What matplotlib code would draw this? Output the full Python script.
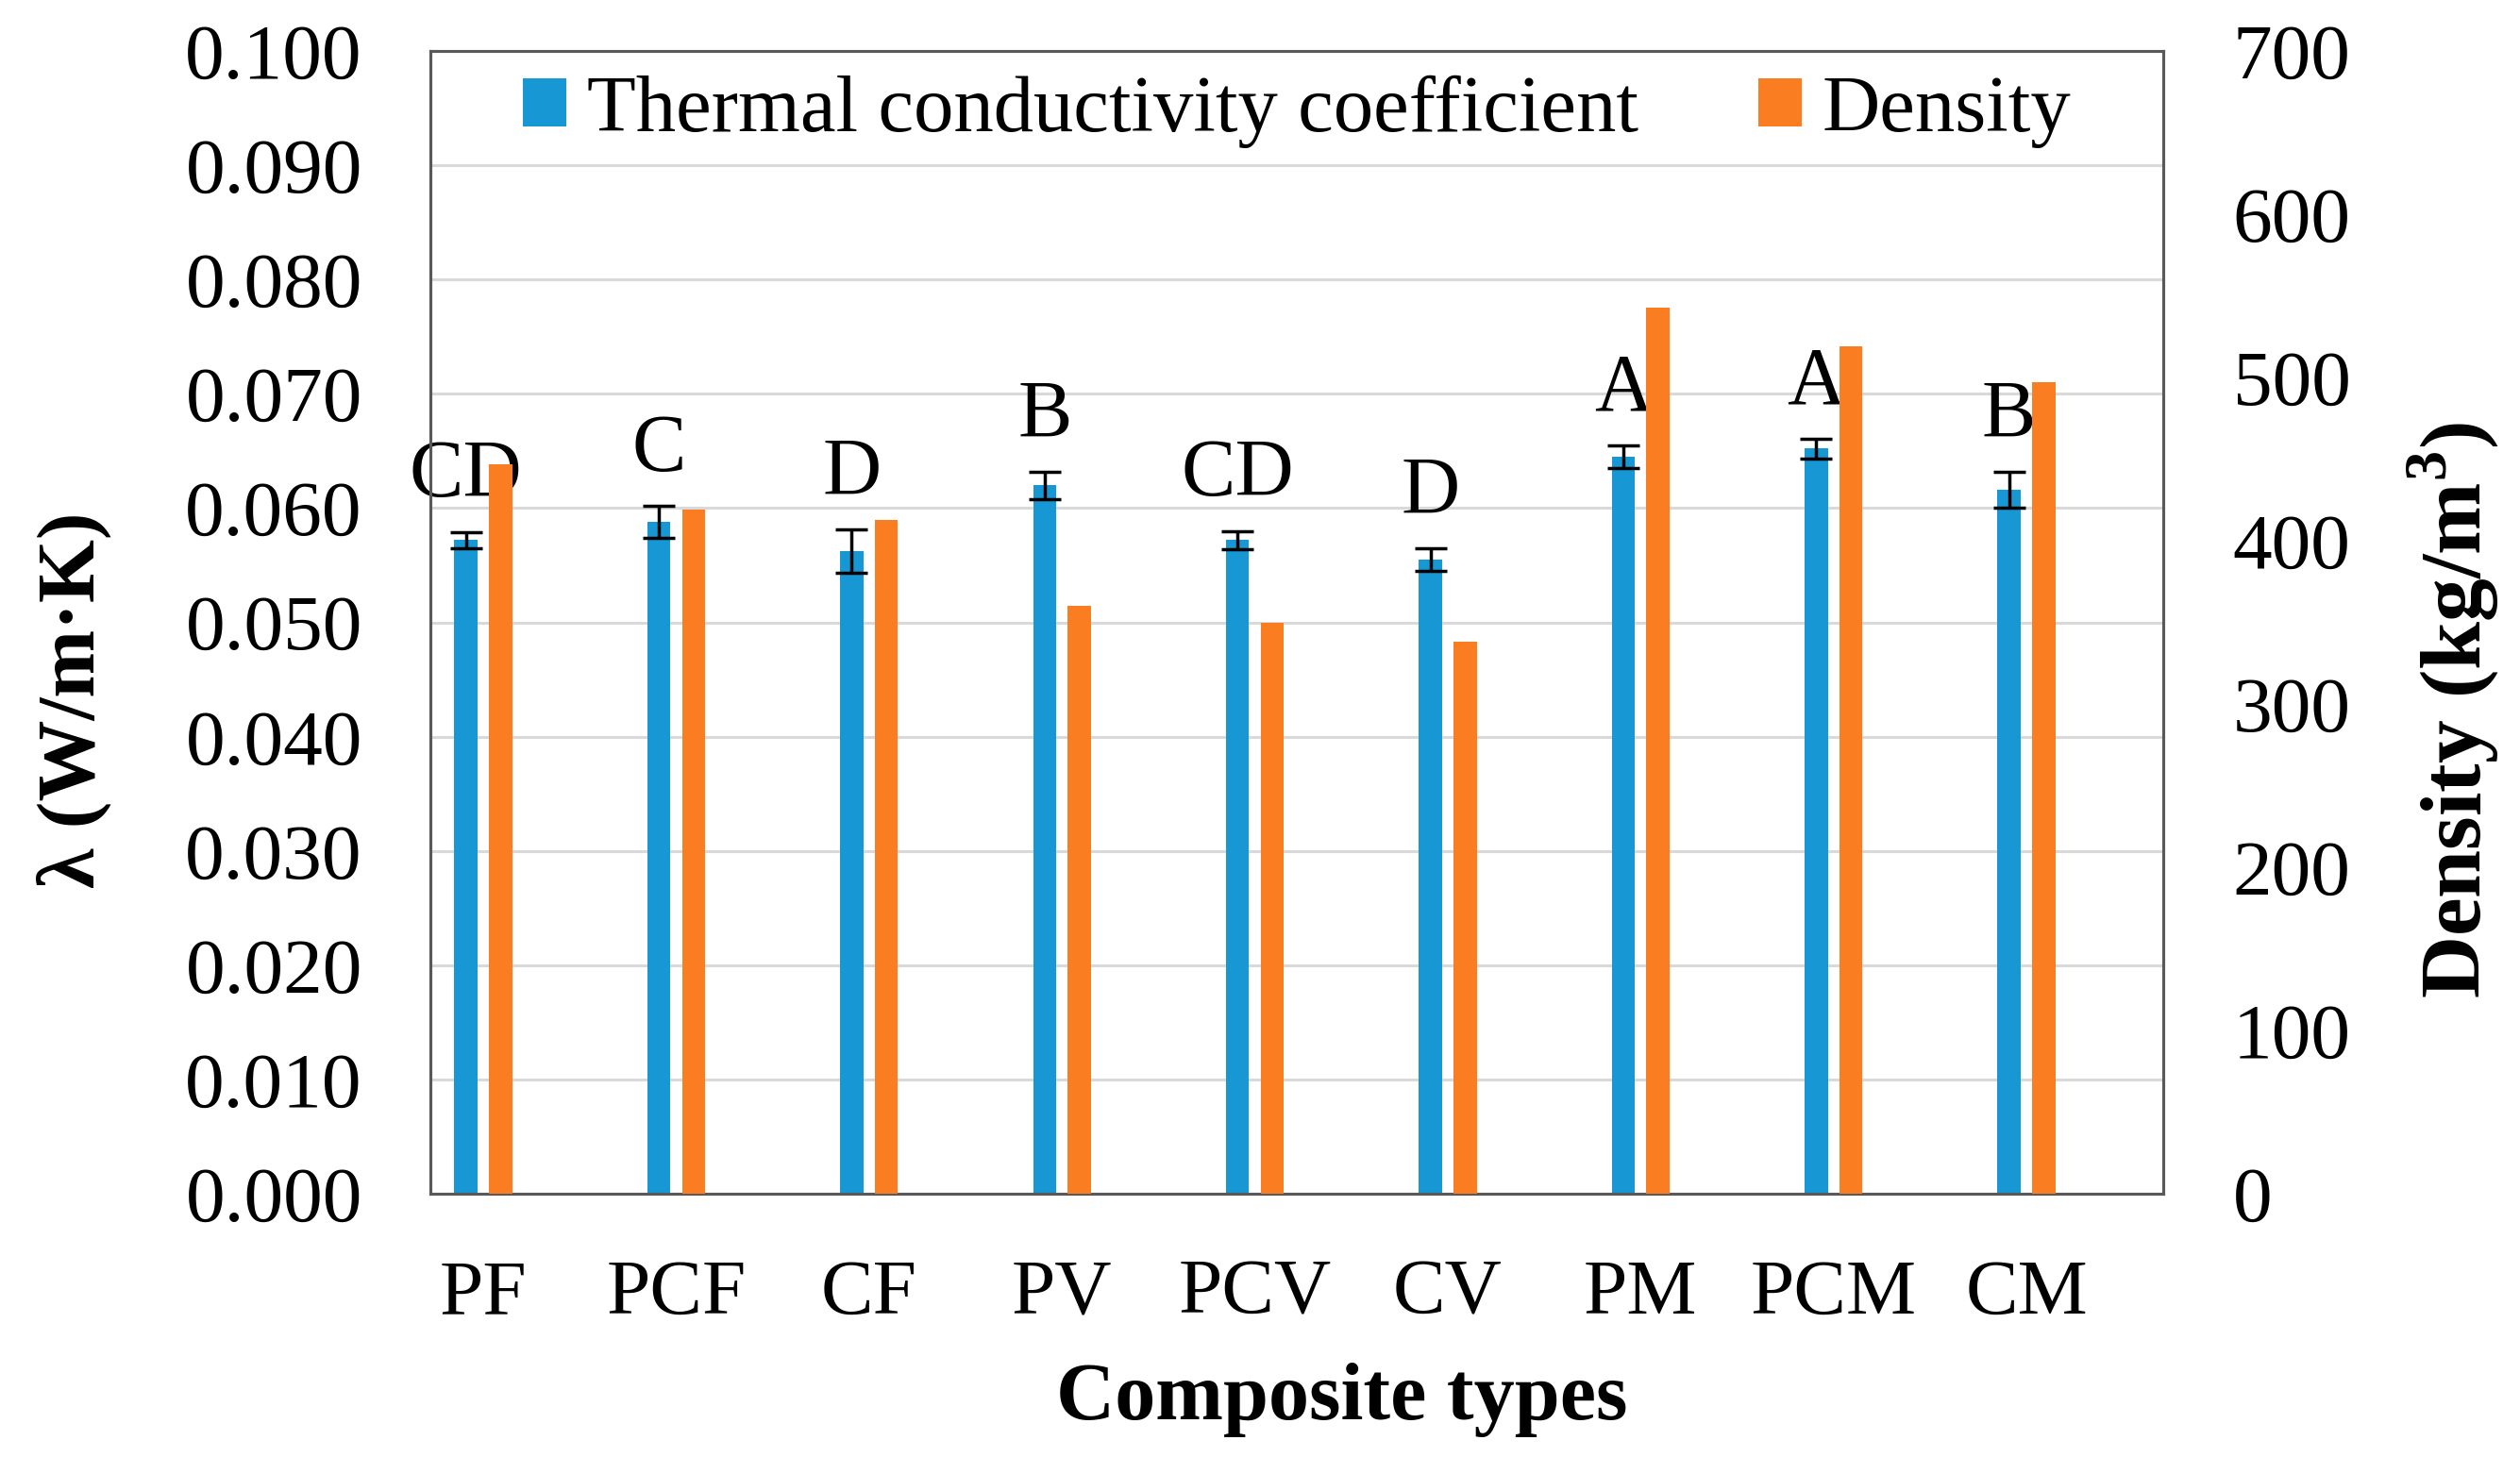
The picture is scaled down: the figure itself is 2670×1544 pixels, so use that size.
import matplotlib
matplotlib.use("Agg")
import matplotlib.pyplot as plt
import numpy as np
from matplotlib.patches import Patch

categories = ["PF", "PCF", "CF", "PV", "PCV", "CV", "PM", "PCM", "CM"]
conductivity = [0.0572, 0.0588, 0.0562, 0.0620, 0.0572, 0.0555, 0.0645, 0.0652, 0.0616]
conductivity_err = [0.0007, 0.0014, 0.0019, 0.0012, 0.0008, 0.0010, 0.0010, 0.0009, 0.0016]
density = [447, 419, 413, 360, 350, 338, 543, 519, 497]
letters = ["CD", "C", "D", "B", "CD", "D", "A", "A", "B"]
left_ticks = [0.000, 0.010, 0.020, 0.030, 0.040, 0.050, 0.060, 0.070, 0.080, 0.090, 0.100]
right_ticks = [0, 100, 200, 300, 400, 500, 600, 700]

blue = "#1797d4"
orange = "#fb7d21"
serif = "Liberation Serif"
fs = 60

plt.rcParams["font.family"] = [serif, "DejaVu Serif"]
plt.rcParams["mathtext.fontset"] = "custom"
plt.rcParams["mathtext.bf"] = serif + ":bold"
plt.rcParams["mathtext.rm"] = serif

fig = plt.figure(figsize=(26.70, 15.44), dpi=100)
ax = fig.add_axes([0.1708, 0.1807, 0.6876, 0.7843])
ax2 = ax.twinx()

x = np.arange(len(categories))
w = 0.12
xb = x - 0.09
xo = x + 0.09

ax.bar(xb, conductivity, width=w, color=blue, zorder=3)
ax.errorbar(xb, conductivity, yerr=conductivity_err, fmt="none", ecolor="black",
            elinewidth=2.5, capsize=12, capthick=2.5, zorder=4)
ax2.bar(xo, density, width=w, color=orange, zorder=3)

for xi, v, e, t in zip(xb, conductivity, conductivity_err, letters):
    ax.annotate(t, xy=(xi, v + e), xytext=(0, 27), textcoords="offset points",
                ha="center", va="baseline", fontsize=62, family=serif, zorder=5)

ax.set_xlim(-0.274, 8.709)
ax.set_ylim(0, 0.100)
ax2.set_ylim(0, 700)
ax.set_yticks(left_ticks)
ax.set_yticklabels([f"{t:.3f}" for t in left_ticks])
ax2.set_yticks(right_ticks)
ax2.set_yticklabels([str(t) for t in right_ticks])
ax.set_xticks(x)
ax.set_xticklabels(categories)

ax.tick_params(axis="y", length=0, pad=52, labelsize=fs)
ax.tick_params(axis="x", length=0, pad=50, labelsize=fs)
ax2.tick_params(axis="y", length=0, pad=53, labelsize=fs)

ax.yaxis.grid(True, color="#d9d9d9", linewidth=2.2, zorder=0)
ax.set_axisbelow(True)

for a in (ax, ax2):
    for s in a.spines.values():
        s.set_color("#595959")
        s.set_linewidth(2.2)

ax.set_ylabel("λ (W/m·K)", fontsize=62, fontweight="bold", family=serif)
ax.yaxis.set_label_coords(-0.184, 0.432)
ax2.set_ylabel("Density (kg/m$^{\\mathbf{3}}$)", fontsize=66, fontweight="bold", family=serif)
ax2.yaxis.set_label_coords(1.140, 0.423)
ax.set_xlabel("Composite types", fontsize=62, fontweight="bold", family=serif)
ax.xaxis.set_label_coords(0.526, -0.148)

handles = [Patch(facecolor=blue, edgecolor="none"), Patch(facecolor=orange, edgecolor="none")]
ax2.legend(handles, ["Thermal conductivity coefficient", "Density"], loc="upper center",
           bbox_to_anchor=(0.5, 1.042), ncol=2, frameon=False,
           handlelength=0.55, handleheight=0.55, handletextpad=0.25, columnspacing=1.5,
           prop={"family": serif, "size": 61})

fig.savefig("out.png", dpi=100, facecolor="white")
